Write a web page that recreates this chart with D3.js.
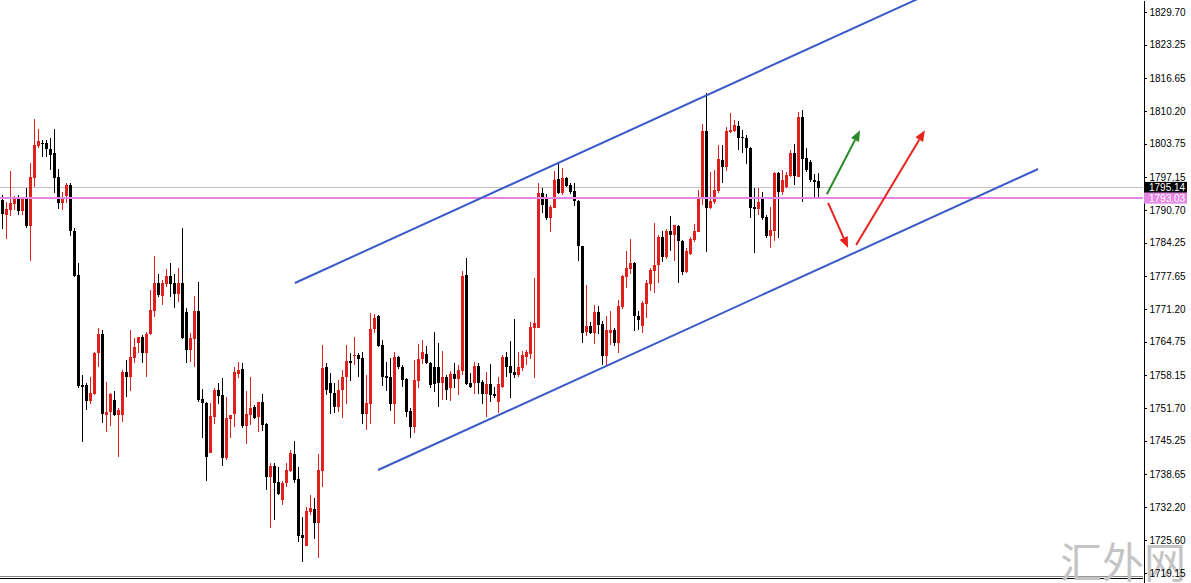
<!DOCTYPE html>
<html>
<head>
<meta charset="utf-8">
<script src="https://cdn.jsdelivr.net/npm/d3@7"></script>
<style>
  body { margin: 0; background: #fff; }
  svg { display: block; }
  .axis text { font-family: "Liberation Sans", Arial, sans-serif; font-size: 10px; fill: #000; }
</style>
</head>
<body>
<div id="chartTarget"></div>
<script>
// candle prices, one per bar
const opens = [1792.7,1789.7,1790.7,1791.9,1793.0,1790.5,1793.0,1787.5,1797.0,1803.3,1803.9,1803.9,1802.7,1801.9,1797.2,1792.1,1793.4,1795.6,1786.5,1777.9,
1756.2,1756.2,1753.1,1754.4,1762.5,1766.3,1750.3,1750.9,1753.3,1750.3,1750.3,1758.8,1757.8,1761.5,1764.5,1765.7,1762.5,1766.3,1770.8,1776.3,
1773.7,1776.1,1777.7,1776.3,1774.1,1776.3,1770.6,1763.1,1765.3,1770.8,1753.4,1752.7,1742.8,1749.9,1755.2,1754.2,1741.8,1749.5,1750.5,1758.4,
1759.4,1748.1,1750.3,1751.9,1749.9,1752.8,1748.5,1738.1,1740.2,1737.1,1733.5,1736.9,1739.3,1742.6,1737.7,1726.6,1724.5,1731.2,1731.8,1729.0,
1739.3,1759.8,1756.6,1754.6,1751.9,1755.2,1757.8,1760.9,1761.9,1762.1,1761.5,1750.5,1752.5,1767.2,1769.8,1764.1,1758.0,1757.8,1752.5,1761.7,
1759.7,1757.4,1751.1,1747.9,1757.0,1761.3,1762.3,1760.5,1759.7,1759.7,1756.6,1757.8,1755.6,1758.4,1757.4,1759.0,1777.9,1756.6,1756.6,1759.9,
1756.8,1754.4,1756.4,1754.4,1752.9,1755.8,1761.7,1759.9,1758.8,1758.2,1759.5,1761.7,1762.3,1767.4,1767.4,1794.0,1793.2,1789.1,1791.1,1796.8,
1794.0,1797.0,1795.6,1794.4,1792.5,1783.6,1766.7,1767.8,1766.5,1770.6,1768.2,1761.9,1766.5,1767.0,1764.5,1771.6,1777.5,1779.1,1780.2,1769.8,
1767.8,1772.2,1776.1,1778.7,1779.9,1785.4,1781.4,1786.5,1785.8,1787.5,1784.6,1778.5,1782.0,1784.8,1786.3,1793.0,1806.2,1791.1,1792.3,1794.4,
1800.5,1799.2,1806.1,1806.2,1807.2,1805.1,1804.9,1802.9,1791.3,1790.9,1793.2,1789.3,1785.6,1786.5,1798.0,1794.2,1795.2,1797.4,1801.9,1797.2,
1809.0,1800.9,1800.1,1796.6,1796.4];
const highs = [1793.6,1792.3,1798.4,1793.4,1793.6,1793.2,1795.0,1800.0,1808.6,1806.6,1804.5,1804.5,1804.9,1806.6,1798.8,1794.2,1796.0,1796.0,1787.1,1780.2,
1758.2,1756.6,1757.8,1762.7,1767.4,1767.0,1756.8,1754.6,1755.0,1751.7,1759.2,1761.1,1767.0,1765.5,1765.7,1766.1,1766.7,1774.9,1781.6,1778.1,
1776.9,1779.1,1780.2,1778.1,1779.3,1787.1,1771.4,1766.5,1773.7,1776.5,1755.4,1752.9,1752.7,1755.6,1756.6,1757.6,1753.8,1750.3,1759.7,1760.7,
1760.5,1755.0,1757.8,1752.3,1752.8,1754.4,1748.7,1740.8,1740.8,1740.0,1737.3,1740.8,1743.4,1745.2,1740.0,1730.2,1732.2,1734.5,1733.9,1742.6,
1764.1,1760.5,1758.6,1756.6,1757.2,1759.2,1764.1,1762.5,1765.7,1762.5,1762.7,1758.2,1770.4,1770.2,1770.0,1765.1,1760.7,1761.5,1762.7,1761.9,
1760.1,1757.6,1751.7,1761.1,1764.3,1765.1,1763.9,1760.7,1766.6,1764.5,1762.9,1758.2,1759.0,1760.5,1760.1,1778.7,1781.2,1758.6,1760.7,1760.5,
1757.2,1758.8,1760.3,1755.8,1757.8,1762.1,1762.7,1764.9,1769.2,1762.7,1762.9,1763.1,1768.6,1777.3,1796.0,1795.0,1793.8,1791.7,1798.4,1800.1,
1799.0,1797.2,1796.0,1796.0,1792.7,1783.6,1775.9,1768.6,1772.0,1771.8,1768.8,1769.8,1770.8,1767.4,1773.0,1777.9,1782.6,1785.0,1780.4,1770.8,
1772.8,1776.9,1779.3,1788.1,1785.8,1786.5,1786.9,1789.5,1787.7,1787.7,1784.8,1783.2,1785.4,1787.9,1794.6,1807.6,1813.7,1798.2,1798.6,1803.5,
1803.5,1807.0,1809.8,1808.4,1808.2,1806.4,1805.5,1803.1,1795.0,1795.0,1794.2,1789.7,1791.3,1798.2,1798.2,1798.6,1798.2,1802.5,1803.7,1810.0,
1810.4,1802.9,1800.5,1797.8,1798.0];
const lows = [1786.9,1785.0,1789.5,1790.7,1789.7,1789.7,1787.1,1780.6,1795.2,1802.9,1801.1,1801.1,1798.6,1794.0,1790.9,1790.7,1792.1,1785.6,1777.5,1755.6,
1745.0,1751.3,1752.5,1754.2,1759.7,1748.7,1747.0,1748.1,1750.1,1742.0,1748.9,1753.8,1755.0,1760.5,1762.5,1760.5,1757.8,1766.1,1769.6,1773.5,
1772.0,1775.5,1773.5,1771.4,1772.6,1765.3,1760.5,1760.7,1759.7,1752.9,1745.8,1737.3,1742.8,1748.5,1752.5,1740.2,1741.4,1745.8,1748.0,1757.6,
1747.7,1744.6,1748.3,1749.5,1747.0,1747.1,1735.5,1728.0,1729.6,1734.5,1732.6,1736.1,1739.1,1736.9,1725.3,1721.3,1724.5,1730.6,1725.9,1722.1,
1736.1,1754.2,1750.5,1750.7,1750.9,1749.7,1752.5,1757.0,1760.1,1757.8,1748.5,1747.3,1748.5,1766.5,1763.7,1756.0,1755.0,1751.1,1748.5,1759.4,
1755.8,1749.9,1745.8,1746.7,1755.6,1760.3,1760.3,1755.6,1754.8,1751.9,1753.3,1753.3,1753.1,1755.6,1754.2,1758.2,1756.2,1755.6,1754.4,1754.4,
1752.5,1749.9,1752.9,1753.6,1750.7,1755.6,1757.8,1753.6,1757.6,1757.8,1759.0,1760.1,1761.3,1757.6,1767.4,1790.1,1788.7,1786.3,1791.1,1793.8,
1793.6,1795.2,1793.8,1791.5,1780.6,1764.5,1765.9,1766.3,1764.3,1766.3,1760.1,1760.1,1764.1,1763.9,1762.5,1771.2,1775.3,1778.1,1766.8,1767.0,
1766.5,1769.4,1774.7,1774.3,1776.3,1780.4,1781.0,1782.6,1780.6,1776.3,1777.9,1778.3,1781.8,1784.4,1786.3,1791.7,1782.4,1790.9,1791.9,1794.0,
1796.0,1798.4,1805.8,1806.1,1802.5,1801.9,1799.7,1789.1,1782.2,1789.7,1788.7,1785.2,1783.2,1784.6,1785.2,1793.6,1795.0,1797.2,1795.6,1797.2,
1792.3,1798.2,1796.2,1793.1,1792.9];
const closes = [1789.9,1790.9,1792.1,1793.2,1790.5,1793.0,1787.5,1797.2,1803.5,1804.3,1803.7,1802.7,1801.5,1797.0,1792.1,1793.2,1795.6,1786.5,1777.7,1756.0,
1755.8,1753.1,1754.6,1762.5,1766.3,1750.5,1750.9,1754.4,1750.3,1751.3,1758.8,1757.8,1761.7,1763.7,1765.7,1762.5,1766.3,1771.0,1776.3,1773.9,
1776.3,1777.7,1776.1,1774.1,1776.3,1765.5,1763.1,1765.5,1770.8,1753.3,1752.7,1742.0,1750.1,1755.2,1754.0,1741.8,1749.7,1750.3,1758.8,1759.2,
1748.1,1750.5,1751.7,1749.7,1752.8,1748.3,1738.1,1740.2,1736.9,1734.7,1736.9,1739.5,1742.8,1737.5,1726.4,1726.0,1731.4,1732.0,1729.0,1739.5,
1759.6,1755.2,1754.6,1751.9,1755.2,1757.8,1760.9,1760.5,1762.1,1761.3,1750.5,1752.7,1767.2,1769.4,1763.9,1757.8,1757.6,1752.5,1761.7,1759.7,
1757.2,1750.9,1747.9,1757.2,1761.3,1762.7,1760.5,1756.2,1756.4,1756.6,1757.8,1755.2,1758.4,1757.4,1759.2,1777.7,1756.4,1755.8,1759.9,1756.6,
1754.4,1756.4,1754.2,1754.0,1756.4,1761.7,1759.7,1758.6,1758.2,1759.7,1762.1,1762.7,1767.6,1768.4,1794.0,1791.7,1789.1,1791.3,1796.6,1794.0,
1797.0,1795.4,1794.2,1792.5,1783.6,1766.5,1767.8,1766.5,1770.6,1768.0,1761.9,1767.0,1767.0,1764.5,1771.8,1777.7,1779.3,1780.2,1769.8,1769.0,
1772.4,1776.3,1778.9,1779.9,1785.4,1781.4,1786.5,1785.8,1787.7,1784.6,1778.5,1782.6,1785.0,1786.5,1793.0,1806.2,1791.1,1792.5,1794.6,1800.7,
1799.2,1806.2,1806.4,1807.4,1804.9,1804.9,1802.9,1791.1,1790.9,1792.3,1789.1,1785.6,1786.7,1798.0,1794.2,1796.6,1797.6,1801.9,1797.4,1809.0,
1800.7,1798.6,1796.6,1796.2,1795.1];

// price scale labels on the right
const tickValues = [1829.70,1823.25,1816.65,1810.20,1803.75,1797.15,1790.70,1784.25,1777.65,1771.20,
  1764.75,1758.15,1751.70,1745.25,1738.65,1732.20,1725.60,1719.15];

const bidPrice = 1795.14;
const levelPrice = 1793.03;

// channel lines and forecast arrows: [bar index, price]
const upperChannel = [[73.1, 1776.3], [230, 1832.7]];
const lowerChannel = [[93.9, 1739.45], [258.9, 1798.76]];
const greenArrow = [[206.1, 1793.8], [214.4, 1806.4]];
const redArrowDown = [[206.4, 1792.1], [211.4, 1783.2]];
const redArrowUp = [[213.4, 1783.8], [230.6, 1806.4]];

let width = 1191;
let height = 583;
let plotRight = 1143;

let x = d3.scaleLinear().domain([0, 285]).range([2.5, 1142.5]);
let y = d3.scaleLinear().domain([1717.19, 1832.06]).range([height, 0]);

let svg = d3.select('#chartTarget').append('svg')
  .attr('width', width)
  .attr('height', height);

svg.append('defs').append('clipPath').attr('id', 'plot')
  .append('rect').attr('x', 0).attr('y', 0).attr('width', plotRight).attr('height', height);

let plot = svg.append('g').attr('clip-path', 'url(#plot)');

// bid line
plot.append('line')
  .attr('x1', 0).attr('x2', plotRight)
  .attr('y1', Math.round(y(bidPrice)) + 0.5).attr('y2', Math.round(y(bidPrice)) + 0.5)
  .style('stroke', '#c0c0c0').style('stroke-width', 1)
  .style('shape-rendering', 'crispEdges');

// candles
let data = opens.map((o, i) => ({i: i, o: o, h: highs[i], l: lows[i], c: closes[i]}));
let candle = plot.selectAll('.candle')
  .data(data)
  .enter().append('g')
    .attr('class', 'candle')
    .style('shape-rendering', 'crispEdges');

const col = d => d.c >= d.o ? '#e0201c' : '#000';

candle.append('line')
  .attr('x1', d => x(d.i)).attr('x2', d => x(d.i))
  .attr('y1', d => y(d.h)).attr('y2', d => y(d.l))
  .style('stroke', col).style('stroke-width', 1);

candle.append('rect')
  .attr('x', d => x(d.i) - 1.5)
  .attr('width', 3)
  .attr('y', d => y(Math.max(d.o, d.c)))
  .attr('height', d => Math.max(1, Math.abs(y(d.o) - y(d.c))))
  .style('fill', col);

// horizontal level
plot.append('line')
  .attr('x1', 0).attr('x2', plotRight)
  .attr('y1', y(levelPrice)).attr('y2', y(levelPrice))
  .style('stroke', '#e486e4').style('stroke-width', 2);

// channel
let line = d3.line().x(d => x(d[0])).y(d => y(d[1]));
[upperChannel, lowerChannel].forEach(pts => {
  plot.append('path')
    .attr('d', line(pts))
    .style('fill', 'none')
    .style('stroke', '#3a5bc7')
    .style('stroke-width', 2);
});

// arrows
function drawArrow(pts, color) {
  let x1 = x(pts[0][0]), y1 = y(pts[0][1]);
  let x2 = x(pts[1][0]), y2 = y(pts[1][1]);
  let a = Math.atan2(y2 - y1, x2 - x1);
  let len = 11, half = 4.5;
  let bx = x2 - len * Math.cos(a), by = y2 - len * Math.sin(a);
  plot.append('line')
    .attr('x1', x1).attr('y1', y1).attr('x2', bx).attr('y2', by)
    .style('stroke', color).style('stroke-width', 2);
  plot.append('path')
    .attr('d', `M${x2},${y2}L${bx - half * Math.sin(a)},${by + half * Math.cos(a)}L${bx + half * Math.sin(a)},${by - half * Math.cos(a)}Z`)
    .style('fill', color);
}
drawArrow(greenArrow, '#2a8a2a');
drawArrow(redArrowDown, '#e8231f');
drawArrow(redArrowUp, '#e8231f');

// bottom border
[576.5, 578.5].forEach(v => {
  svg.append('line')
    .attr('x1', 0).attr('x2', plotRight).attr('y1', v).attr('y2', v)
    .style('stroke', v < 577 ? '#888' : '#000').style('stroke-width', 1);
});

// watermark, sits under the scale labels like in the screenshot
svg.append('text')
  .attr('x', 1060).attr('y', 578)
  .style('font-family', '"Noto Sans CJK SC", sans-serif')
  .style('font-weight', 400)
  .style('font-size', '42px')
  .style('fill', '#c4c4c4')
  .text('汇外网');

// price axis
let yAxis = d3.axisRight(y)
  .tickValues(tickValues)
  .tickFormat(d3.format('.2f'))
  .tickSizeInner(3)
  .tickSizeOuter(0)
  .tickPadding(3);

svg.append('g')
  .attr('class', 'axis')
  .attr('transform', `translate(${plotRight + 0.5}, 0)`)
  .call(yAxis);

svg.selectAll('.axis line, .axis path').style('stroke', '#000').style('shape-rendering', 'crispEdges');

// current price tags
function priceTag(price, bg) {
  let g = svg.append('g').attr('transform', `translate(${plotRight + 1}, ${y(price)})`);
  g.append('rect').attr('x', 0).attr('y', -5.5).attr('width', 43).attr('height', 11).style('fill', bg);
  g.append('text')
    .attr('x', 5).attr('y', 4)
    .style('font-family', '"Liberation Sans", Arial, sans-serif')
    .style('font-size', '10px')
    .style('fill', '#fff')
    .text(price.toFixed(2));
}
priceTag(bidPrice, '#000');
priceTag(levelPrice, '#e486e4');
</script>
</body>
</html>
